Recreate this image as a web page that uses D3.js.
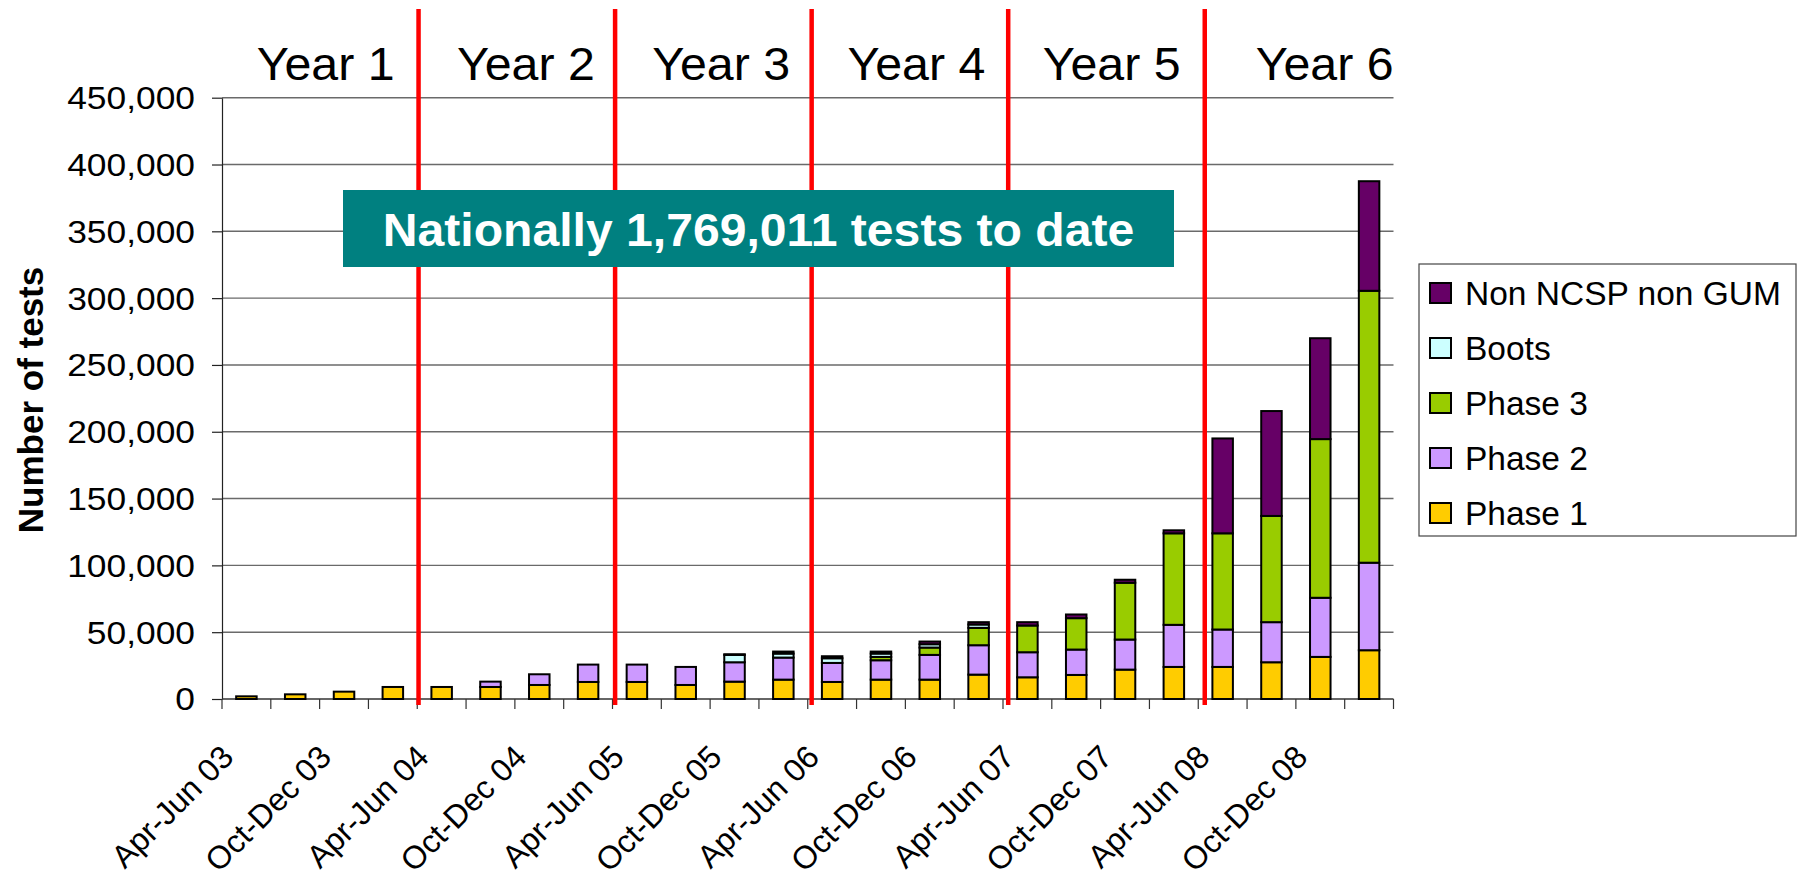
<!DOCTYPE html>
<html><head><meta charset="utf-8">
<script src="https://cdn.jsdelivr.net/npm/d3@7"></script>
<style>
body{margin:0;background:#fff;}
svg{display:block;font-family:"Liberation Sans",Arial,sans-serif;}
</style>
</head><body>
<svg id="c" width="1800" height="882"></svg>
<script>
// ---------- DATA ----------
const categories = [
  "Apr-Jun 03","Jul-Sep 03","Oct-Dec 03","Jan-Mar 04",
  "Apr-Jun 04","Jul-Sep 04","Oct-Dec 04","Jan-Mar 05",
  "Apr-Jun 05","Jul-Sep 05","Oct-Dec 05","Jan-Mar 06",
  "Apr-Jun 06","Jul-Sep 06","Oct-Dec 06","Jan-Mar 07",
  "Apr-Jun 07","Jul-Sep 07","Oct-Dec 07","Jan-Mar 08",
  "Apr-Jun 08","Jul-Sep 08","Oct-Dec 08","Jan-Mar 09"];
const phase1  = [2000,3500,5500,9000, 9000,9000,10500,12750, 12750,10500,13000,14500, 12750,14500,14500,18250, 16250,18000,22000,24000, 24000,27500,31500,36500];
const phase2  = [0,0,0,0, 0,4000,8000,13000, 13000,13500,14500,16500, 14250,14500,18500,22000, 18750,19000,22500,31500, 28000,30000,44250,65500];
const phase3  = [0,0,0,0, 0,0,0,0, 0,0,0,0, 0,2500,5500,13000, 20000,23500,42500,68500, 72000,79500,118750,203500];
const boots   = [0,0,0,0, 0,0,0,0, 0,0,5500,3000, 3500,2500,2500,2500, 0,0,0,0, 0,0,0,0];
const nonNcsp = [0,0,0,0, 0,0,0,0, 0,0,500,1500, 1500,1500,2000,1750, 2500,2750,2250,2250, 71000,78500,75500,82000];
const seriesNames = ["Phase 1","Phase 2","Phase 3","Boots","Non NCSP non GUM"];
const seriesColors = ["#FFCC00","#CC99FF","#99CC00","#CCFFFF","#660066"];
const yTicks = [0,50000,100000,150000,200000,250000,300000,350000,400000,450000];
const yearLabels = ["Year 1","Year 2","Year 3","Year 4","Year 5","Year 6"];
const annotationText = "Nationally 1,769,011 tests to date";
const yTitle = "Number of tests";

// ---------- LAYOUT ----------
const svg = d3.select("#c");
const L = 222, R = 1393.5, T = 97.7, B = 699;
const x = d3.scaleBand().domain(categories).range([L, R]).paddingInner(0.58).paddingOuter(0.29);
const y = d3.scaleLinear().domain([0, 450000]).range([B, T]);
const step = x.step();

const series = [phase1, phase2, phase3, boots, nonNcsp];
const rows = categories.map((c, i) => {
  const o = {cat: c};
  seriesNames.forEach((n, k) => o[n] = series[k][i]);
  return o;
});
const stacked = d3.stack().keys(seriesNames)(rows);

// gridlines
svg.append("g").selectAll("line").data(yTicks.filter(d => d > 0)).join("line")
  .attr("x1", L).attr("x2", R).attr("y1", d => y(d)).attr("y2", d => y(d))
  .attr("stroke", "#6a6a6a").attr("stroke-width", 1.4);

// y axis
const yAxis = svg.append("g").attr("transform", `translate(${L},0)`)
  .call(d3.axisLeft(y).tickValues(yTicks).tickSize(10).tickSizeOuter(0).tickFormat(d3.format(",")));
yAxis.select(".domain").attr("stroke", "#222").attr("stroke-width", 1.2);
yAxis.selectAll(".tick line").attr("stroke", "#222").attr("stroke-width", 1.2);
yAxis.selectAll(".tick text")
  .attr("font-size", 30.5).attr("font-family", "Liberation Sans, Arial, sans-serif")
  .attr("fill", "#000").attr("x", -27 / 1.16).attr("dy", "0.36em")
  .attr("transform", "scale(1.16,1)");

// x axis baseline + boundary ticks
const xg = svg.append("g");
xg.append("line").attr("x1", L).attr("x2", R).attr("y1", B).attr("y2", B)
  .attr("stroke", "#333").attr("stroke-width", 1.4);
xg.selectAll("line.tk").data(d3.range(categories.length + 1)).join("line").attr("class", "tk")
  .attr("x1", i => L + i * step).attr("x2", i => L + i * step)
  .attr("y1", B).attr("y2", B + 10).attr("stroke", "#333").attr("stroke-width", 1.2);

// x labels (every other category)
svg.append("g").selectAll("text").data(categories.filter((c, i) => i % 2 === 0)).join("text")
  .attr("transform", d => `translate(${x(d) + x.bandwidth() / 2 - 11},759) rotate(-45)`)
  .attr("text-anchor", "end").attr("font-size", 32).attr("fill", "#000").text(d => d);

// bars
svg.append("g").selectAll("g").data(stacked).join("g")
  .attr("fill", (d, i) => seriesColors[i])
  .selectAll("rect").data(d => d.filter(s => s[1] - s[0] > 0)).join("rect")
  .attr("x", d => x(d.data.cat)).attr("width", x.bandwidth())
  .attr("y", d => y(d[1])).attr("height", d => y(d[0]) - y(d[1]))
  .attr("stroke", "#000").attr("stroke-width", 2);

// red year dividers
const dividers = [4, 8, 12, 16, 20];
svg.append("g").selectAll("line").data(dividers).join("line")
  .attr("x1", (d, i) => L + d * step + 1.3 * (i + 1)).attr("x2", (d, i) => L + d * step + 1.3 * (i + 1))
  .attr("y1", 9).attr("y2", 705).attr("stroke", "#FF0000").attr("stroke-width", 4.5);

// year labels
svg.append("g").selectAll("text").data(yearLabels).join("text")
  .attr("transform", (d, i) => {
    const cx = i < 5 ? L + (i * 4 + 2) * step + (i === 0 ? 6 : 11) : R;
    return `translate(${cx},80) scale(1.05,1)`;
  })
  .attr("text-anchor", (d, i) => i < 5 ? "middle" : "end")
  .attr("font-size", 46).attr("fill", "#000").text(d => d);

// annotation box
svg.append("rect").attr("x", 343).attr("y", 190).attr("width", 831).attr("height", 77).attr("fill", "#008080");
svg.append("text").attr("transform", "translate(758.5,246) scale(1.035,1)").attr("text-anchor", "middle")
  .attr("font-size", 46.5).attr("font-weight", "bold").attr("fill", "#fff").text(annotationText);

// y title
svg.append("text").attr("transform", "translate(43,400) rotate(-90)").attr("text-anchor", "middle")
  .attr("font-size", 35).attr("font-weight", "bold").attr("fill", "#000").text(yTitle);

// legend
const lg = svg.append("g");
lg.append("rect").attr("x", 1419).attr("y", 264).attr("width", 377).attr("height", 272)
  .attr("fill", "#fff").attr("stroke", "#444").attr("stroke-width", 1.2);
const legendOrder = d3.range(seriesNames.length).reverse();
const li = lg.selectAll("g.item").data(legendOrder).join("g").attr("class", "item")
  .attr("transform", (d, j) => `translate(1430,${293 + j * 55})`);
li.append("rect").attr("x", 0).attr("y", -10).attr("width", 21).attr("height", 20)
  .attr("fill", d => seriesColors[d]).attr("stroke", "#000").attr("stroke-width", 2);
li.append("text").attr("x", 35).attr("y", 11.5)
  .attr("font-size", 33.5).attr("fill", "#000").text(d => seriesNames[d]);
</script>
</body></html>
